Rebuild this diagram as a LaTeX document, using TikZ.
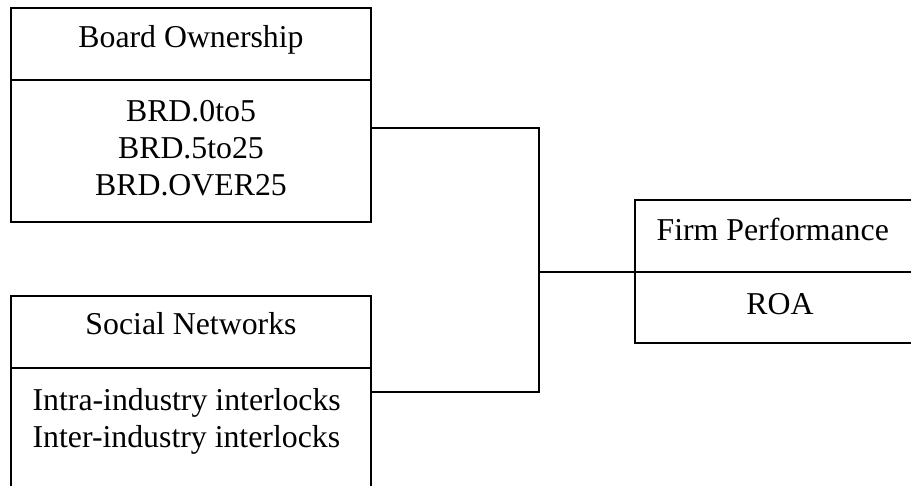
\documentclass[tikz,border=0pt]{standalone}
\usepackage{fontspec}
\setmainfont{Liberation Serif}
\begin{document}
\begin{tikzpicture}[x=1bp,y=-1bp,
  line width=1.2bp,
  boxshape/.style={draw=black, line width=1.2bp, rectangle, inner sep=0pt},
  txt/.style={inner sep=0pt, font=\fontsize{31.8bp}{37bp}\selectfont}]
\clip (0,0) rectangle (911,486);
\fill[white] (0,0) rectangle (911,486);
% Board Ownership box
\node[boxshape, minimum width=360bp, minimum height=214bp] (bo) at (191,115) {};
\draw (bo.west |- 0,80) -- (bo.east |- 0,80);
\node[txt, anchor=base] (bot) at (191,48) {Board Ownership};
\node[txt, anchor=base] (bo1) at (191,122) {BRD.0to5};
\node[txt, anchor=base] (bo2) at (191,159) {BRD.5to25};
\node[txt, anchor=base] (bo3) at (191,196) {BRD.OVER25};
% Social Networks box
\node[boxshape, minimum width=360bp, minimum height=240bp] (sn) at (191,416) {};
\draw (sn.west |- 0,368) -- (sn.east |- 0,368);
\node[txt, anchor=base] (snt) at (191,335) {Social Networks};
\node[txt, anchor=base west] (sn1) at (32,410) {Intra-industry interlocks};
\node[txt, anchor=base west] (sn2) at (32,447) {Inter-industry interlocks};
% Firm Performance box
\node[boxshape, minimum width=330bp, minimum height=143bp] (fp) at (800,271.5) {};
\draw (fp.west |- 0,272) -- (fp.east |- 0,272);
\node[txt, anchor=base west] (fpt) at (656,241) {Firm Performance};
\node[txt, anchor=base] (fp1) at (780,315) {ROA};
% connectors
\coordinate (j) at (539,272);
\coordinate (a) at (371,128);
\coordinate (b) at (371,392);
\draw (a) -| (j);
\draw (b) -| (j);
\draw (j) -- (fp.west |- j);
\end{tikzpicture}
\end{document}
